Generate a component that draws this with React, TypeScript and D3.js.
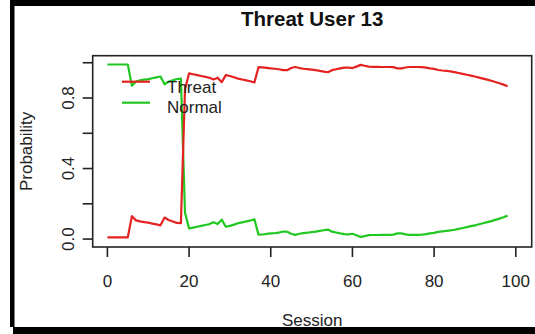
import React from "react";
import * as d3 from "d3";

// Posterior probabilities per session for user 13
const threatProb: number[] = [
  0.01, 0.01, 0.01, 0.01, 0.01, 0.01, 0.13, 0.106, 0.1, 0.096,
  0.093, 0.088, 0.083, 0.078, 0.122, 0.108, 0.1, 0.092, 0.09, 0.85,
  0.94, 0.935, 0.93, 0.925, 0.92, 0.915, 0.905, 0.915, 0.89, 0.93,
  0.925, 0.918, 0.91, 0.905, 0.9, 0.895, 0.888, 0.975, 0.974, 0.971,
  0.968, 0.966, 0.963, 0.958, 0.958, 0.97, 0.976, 0.97, 0.966, 0.964,
  0.961, 0.958, 0.954, 0.95, 0.946, 0.958, 0.963, 0.968, 0.972, 0.973,
  0.97, 0.978, 0.988, 0.983, 0.978, 0.977, 0.977, 0.976, 0.976, 0.976,
  0.975, 0.968, 0.968, 0.973, 0.976, 0.976, 0.976, 0.975, 0.972, 0.968,
  0.965, 0.959, 0.956, 0.954, 0.951, 0.947, 0.942, 0.937, 0.932, 0.927,
  0.922, 0.916, 0.91, 0.904, 0.898, 0.891, 0.884, 0.876, 0.867,
];

const normalProb: number[] = [
  0.99, 0.99, 0.99, 0.99, 0.99, 0.99, 0.87, 0.894, 0.9, 0.904,
  0.907, 0.912, 0.917, 0.922, 0.878, 0.892, 0.9, 0.908, 0.91, 0.15,
  0.06, 0.065, 0.07, 0.075, 0.08, 0.085, 0.095, 0.085, 0.11, 0.07,
  0.075, 0.082, 0.09, 0.095, 0.1, 0.105, 0.112, 0.025, 0.026, 0.029,
  0.032, 0.034, 0.037, 0.042, 0.042, 0.03, 0.024, 0.03, 0.034, 0.036,
  0.039, 0.042, 0.046, 0.05, 0.054, 0.042, 0.037, 0.032, 0.028, 0.027,
  0.03, 0.022, 0.012, 0.017, 0.022, 0.023, 0.023, 0.024, 0.024, 0.024,
  0.025, 0.032, 0.032, 0.027, 0.024, 0.024, 0.024, 0.025, 0.028, 0.032,
  0.035, 0.041, 0.044, 0.046, 0.049, 0.053, 0.058, 0.063, 0.068, 0.073,
  0.078, 0.084, 0.09, 0.096, 0.102, 0.109, 0.116, 0.124, 0.133,
];

const xTicks = [0, 20, 40, 60, 80, 100];
const yTicks = [0, 0.2, 0.4, 0.6, 0.8, 1.0];
const yTickLabels = ["0.0", "", "0.4", "", "0.8", ""];
const legendLabels = ["Threat", "Normal"];

const W = 535;
const H = 334;
const FONT = "'Liberation Sans', Arial, Helvetica, sans-serif";
const RED = "#e42222";
const GREEN = "#22c822";
const AXIS = "#222";

const plot = { left: 92.7, right: 531.7, top: 55.7, bottom: 247 };

export default function App() {
  const x = d3.scaleLinear().domain([-3.6, 103.9]).range([plot.left, plot.right]);
  const y = d3.scaleLinear().domain([-0.045, 1.04]).range([plot.bottom, plot.top]);

  const line = d3
    .line<number>()
    .x((_, i) => x(i))
    .y((d) => y(d));

  const cx = (plot.left + plot.right) / 2;
  const cy = (plot.top + plot.bottom) / 2;

  return (
    <svg
      width={W}
      height={H}
      style={{ position: "absolute", left: 0, top: 0, background: "#fff" }}
      fontFamily={FONT}
    >
      <rect x={0} y={0} width={W} height={H} fill="#fff" />
      {/* outer frame */}
      <rect x={10} y={0} width={W - 10} height={6} fill="#000" />
      <rect x={10} y={0} width={4.5} height={327} fill="#000" />
      <rect x={13} y={327} width={W - 13} height={7} fill="#000" />

      {/* title */}
      <text x={cx} y={26} textAnchor="middle" fontSize={20.5} fontWeight="bold" fill="#111">
        Threat User 13
      </text>

      {/* data lines */}
      <path d={line(normalProb) ?? ""} fill="none" stroke={GREEN} strokeWidth={2.2} strokeLinejoin="round" />
      <path d={line(threatProb) ?? ""} fill="none" stroke={RED} strokeWidth={2.2} strokeLinejoin="round" />

      {/* plot box */}
      <rect
        x={plot.left}
        y={plot.top}
        width={plot.right - plot.left}
        height={plot.bottom - plot.top}
        fill="none"
        stroke={AXIS}
        strokeWidth={1.6}
      />

      {/* x axis */}
      {xTicks.map((t) => (
        <g key={`x${t}`}>
          <line x1={x(t)} x2={x(t)} y1={plot.bottom} y2={plot.bottom + 10} stroke={AXIS} strokeWidth={1.6} />
          <text x={x(t)} y={287} textAnchor="middle" fontSize={17} fill="#222">
            {t}
          </text>
        </g>
      ))}
      <text x={cx} y={326} textAnchor="middle" fontSize={17} fill="#222">
        Session
      </text>

      {/* y axis */}
      {yTicks.map((t, i) => (
        <g key={`y${t}`}>
          <line x1={plot.left - 10} x2={plot.left} y1={y(t)} y2={y(t)} stroke={AXIS} strokeWidth={1.6} />
          {yTickLabels[i] && (
            <text
              transform={`translate(${74},${y(t)}) rotate(-90)`}
              textAnchor="middle"
              fontSize={17}
              fill="#222"
            >
              {yTickLabels[i]}
            </text>
          )}
        </g>
      ))}
      <text
        transform={`translate(${32},${cy}) rotate(-90)`}
        textAnchor="middle"
        fontSize={17}
        fill="#222"
      >
        Probability
      </text>

      {/* legend */}
      {legendLabels.map((lab, i) => (
        <g key={lab}>
          <line
            x1={122}
            x2={150}
            y1={81.7 + i * 21}
            y2={81.7 + i * 21}
            stroke={i === 0 ? RED : GREEN}
            strokeWidth={2.2}
          />
          <text x={167} y={92.5 + i * 20.2} fontSize={17} fill="#222">
            {lab}
          </text>
        </g>
      ))}
    </svg>
  );
}
